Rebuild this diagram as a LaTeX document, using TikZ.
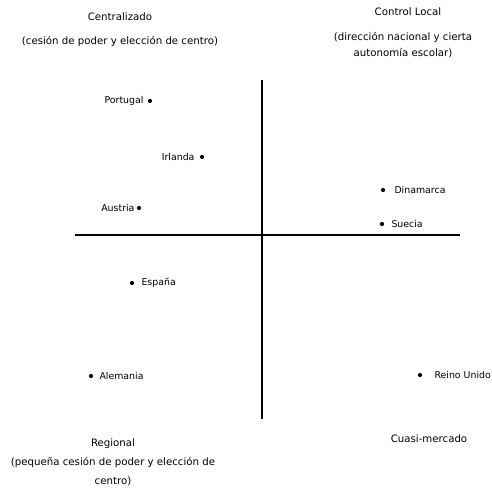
\documentclass[tikz,border=0pt]{standalone}
\usepackage{fontspec}
\setmainfont{DejaVu Sans}
\begin{document}
\begin{tikzpicture}[x=1pt,y=-1pt,
  axis/.style={line width=2.6pt},
  pt/.style={circle,fill=black,inner sep=0pt,minimum size=4.2pt},
  country/.style={font=\fontsize{9.4}{11}\selectfont,inner sep=0pt},
  head/.style={font=\fontsize{10.2}{12}\selectfont,inner sep=0pt,align=center},
  subA/.style={font=\fontsize{10.2}{16}\selectfont,inner sep=0pt,align=center},
  subB/.style={font=\fontsize{10.2}{19}\selectfont,inner sep=0pt,align=center}]
\useasboundingbox (0,0) rectangle (492,492);
% axes
\coordinate (top) at (262,80);
\coordinate (bottom) at (262,419);
\coordinate (left) at (75,235);
\coordinate (right) at (460,235);
\draw[axis] (top) -- (bottom);
\draw[axis] (left) -- (right);
% quadrant titles
\node[head] (cen) at (120,17) {Centralizado};
\node[head] (censub) at (120,41) {(cesión de poder y elección de centro)};
\node[head] (loc) at (408,12) {Control Local};
\node[subA] (locsub) at (403,45) {(dirección nacional y cierta\\autonomía escolar)};
\node[head] (reg) at (113,444) {Regional};
\node[subB] (regsub) at (113,472) {(pequeña cesión de poder y elección de\\centro)};
\node[head] (mer) at (429,439) {Cuasi-mercado};
% countries
\node[pt,label={[country,xshift=-4pt]left:Portugal}] (por) at (150,101) {};
\node[pt,label={[country,xshift=-5pt]left:Irlanda}] (irl) at (202,157) {};
\node[pt,label={[country,xshift=-2pt]left:Austria}] (aus) at (139,208) {};
\node[pt,label={[country,xshift=9pt]right:Dinamarca}] (din) at (383,190) {};
\node[pt,label={[country,xshift=7pt]right:Suecia}] (sue) at (382,224) {};
\node[pt,label={[country,xshift=7pt]right:España}] (esp) at (132,283) {};
\node[pt,label={[country,xshift=6pt]right:Alemania}] (ale) at (91,376) {};
\node[pt,label={[country,xshift=12pt]right:Reino Unido}] (ru) at (420,375) {};
\end{tikzpicture}
\end{document}
